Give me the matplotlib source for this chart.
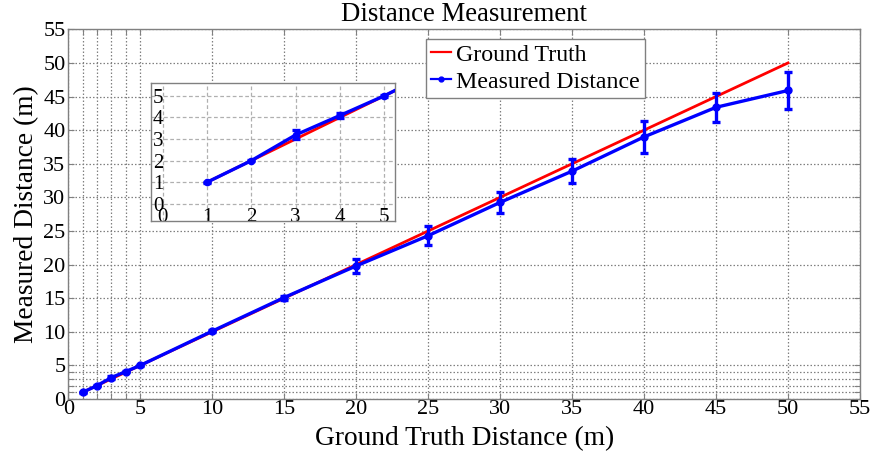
import matplotlib
matplotlib.use("Agg")
import matplotlib.pyplot as plt
from matplotlib.lines import Line2D

# ---- data ----
truth = [1, 2, 3, 4, 5, 10, 15, 20, 25, 30, 35, 40, 45, 50]
measured = [1.0, 2.0, 3.19, 4.09, 5.0, 10.1, 15.1, 19.8, 24.3, 29.25, 33.9, 39.0, 43.4, 45.9]
err = [0.03, 0.03, 0.21, 0.12, 0.05, 0.1, 0.3, 1.04, 1.39, 1.6, 1.74, 2.33, 2.16, 2.78]

main_ticks = [0, 1, 2, 3, 4, 5, 10, 15, 20, 25, 30, 35, 40, 45, 50, 55]
main_labels = [str(t) if t % 5 == 0 else "" for t in main_ticks]
inset_ticks = [0, 1, 2, 3, 4, 5]

title = "Distance Measurement"
xlabel = "Ground Truth Distance (m)"
ylabel = "Measured Distance (m)"
legend_labels = ["Ground Truth", "Measured Distance"]

plt.rcParams['font.family'] = ['Liberation Serif', 'DejaVu Serif']

fig = plt.figure(figsize=(8.73, 4.54), dpi=100)
ax = fig.add_axes([0.0782, 0.1211, 0.9069, 0.8143])

RED = '#ff0000'
BLUE = '#0000ff'
GRIDC = '#808080'

def draw(a, lw_r=2.0, lw_b=2.4, ms=5):
    a.plot(truth, truth, color=RED, lw=lw_r, zorder=3)
    a.errorbar(truth, measured, yerr=err, color=BLUE, lw=lw_b, marker='o',
               ms=ms, capsize=2.6, capthick=lw_b, elinewidth=lw_b, zorder=4)

draw(ax)
ax.set_xlim(0, 55)
ax.set_ylim(0, 55)
ax.set_xticks(main_ticks)
ax.set_xticklabels(main_labels)
ax.set_yticks(main_ticks)
ax.set_yticklabels(main_labels)
ax.tick_params(direction='in', top=True, right=True, labelsize=16, length=4,
               pad=2, color=GRIDC)
ax.tick_params(axis='x', pad=1)
ax.grid(True, linestyle=(0, (1.2, 1.6)), color=GRIDC, lw=0.9)
for s in ax.spines.values():
    s.set_color(GRIDC)
    s.set_linewidth(1.0)
ax.set_title(title, fontsize=19.4, pad=6)
ax.set_xlabel(xlabel, fontsize=19.7, labelpad=4.5)
ax.set_ylabel(ylabel, fontsize=19.7, labelpad=3)

handles = [Line2D([], [], color=RED, lw=1.6),
           Line2D([], [], color=BLUE, lw=1.6, marker='o', ms=3.5)]
leg = ax.legend(handles, legend_labels, loc='upper left',
                bbox_to_anchor=(0.452, 0.973), fontsize=17.2,
                handlelength=0.85, handletextpad=0.2, borderpad=0.2,
                labelspacing=0.22, borderaxespad=0, fancybox=False,
                framealpha=1, edgecolor=GRIDC)
leg.get_frame().set_linewidth(1.0)

# ---- inset ----
ins = fig.add_axes([0.173, 0.5132, 0.2795, 0.304])
draw(ins, lw_r=2.0, lw_b=2.4, ms=4.5)
ins.set_xlim(-0.26, 5.24)
ins.set_ylim(-0.79, 5.59)
ins.set_xticks(inset_ticks)
ins.set_yticks(inset_ticks)
ins.tick_params(direction='in', labelsize=15, length=0)
ins.grid(True, linestyle=(0, (3, 2)), color='#b0b0b0', lw=0.9)
for s in ins.spines.values():
    s.set_color(GRIDC)
    s.set_linewidth(1.0)
for lab in ins.get_yticklabels():
    lab.set_horizontalalignment('left')
ins.tick_params(axis='y', pad=-1.5)
ins.tick_params(axis='x', pad=-9.5)

fig.savefig('out.png', dpi=100)
